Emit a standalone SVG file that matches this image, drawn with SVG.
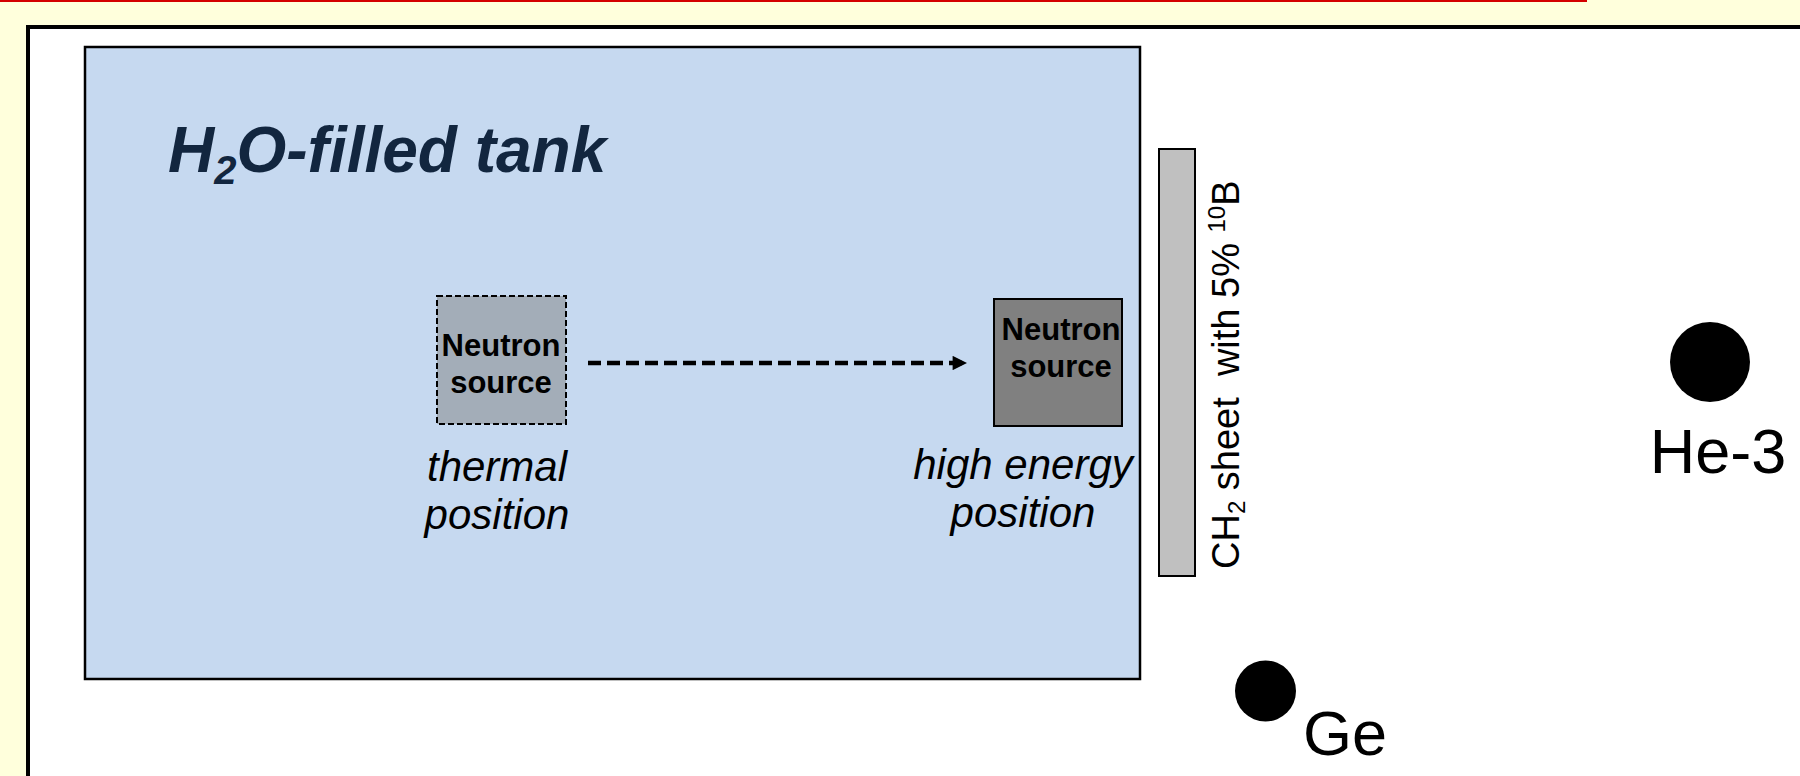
<svg xmlns="http://www.w3.org/2000/svg" width="1800" height="776" viewBox="0 0 1800 776">
<defs>
<style>
.lbl{font-family:"Liberation Sans",Arial,sans-serif;fill:#000;white-space:pre}
.src{font-family:"Liberation Sans",Arial,sans-serif;font-weight:bold;font-size:31px;text-anchor:middle;fill:#000}
.pos{font-family:"Liberation Sans",Arial,sans-serif;font-style:italic;font-size:42px;text-anchor:middle;fill:#000}
.det{font-family:"Liberation Sans",Arial,sans-serif;font-size:63px;fill:#000}
</style>
<marker id="ah" viewBox="0 0 10 10" refX="10" refY="5" markerWidth="3.6" markerHeight="3.2" orient="auto" markerUnits="strokeWidth">
<path d="M0,0 L10,5 L0,10 Z" fill="#000"/>
</marker>
</defs>
<rect x="0" y="0" width="1800" height="776" fill="#FFFFDC"/>
<rect x="0" y="0" width="1587" height="2" fill="#D40000"/>
<rect id="frame" x="28" y="27" width="1790" height="770" fill="#FFFFFF" stroke="#000" stroke-width="4"/>
<g id="tank">
<rect x="85" y="47" width="1055" height="632" fill="#C6D9F0" stroke="#000" stroke-width="2.5"/>
<text x="168" y="172" font-family="'Liberation Sans',Arial,sans-serif" font-weight="bold" font-style="italic" font-size="64" fill="#12263F">H<tspan font-size="40" dy="12">2</tspan><tspan dy="-12">O-filled tank</tspan></text>
</g>
<g id="source-thermal">
<rect x="437" y="296" width="129" height="128" fill="#A3ADB8" stroke="#000" stroke-width="2" stroke-dasharray="6,3"/>
<text class="src" x="501" y="356">Neutron</text>
<text class="src" x="501" y="393">source</text>
<text class="pos" x="497" y="481">thermal</text>
<text class="pos" x="497" y="529">position</text>
</g>
<g id="source-high">
<rect x="994" y="299" width="128" height="127" fill="#808080" stroke="#000" stroke-width="2"/>
<text class="src" x="1061" y="340">Neutron</text>
<text class="src" x="1061" y="377">source</text>
<text class="pos" x="1023" y="479">high energy</text>
<text class="pos" x="1023" y="527">position</text>
</g>
<g id="sheet">
<rect x="1159" y="149" width="36" height="427" fill="#C0C0C0" stroke="#000" stroke-width="2"/>
<text class="lbl" transform="translate(1239,569) rotate(-90)" font-size="38" xml:space="preserve">CH<tspan font-size="24" dy="6">2</tspan><tspan dy="-6"> sheet  with 5% </tspan><tspan font-size="24" dy="-14">10</tspan><tspan dy="14">B</tspan></text>
</g>
<g id="he3">
<circle cx="1710" cy="362" r="40" fill="#000"/>
<text class="det" x="1718" y="473" text-anchor="middle">He-3</text>
</g>
<g id="ge">
<circle cx="1265.5" cy="691" r="30.5" fill="#000"/>
<text class="det" x="1303" y="755">Ge</text>
</g>
<g id="connectors">
<line x1="588" y1="363" x2="967" y2="363" stroke="#000" stroke-width="4.5" stroke-dasharray="13,6" marker-end="url(#ah)"/>
</g>
</svg>
